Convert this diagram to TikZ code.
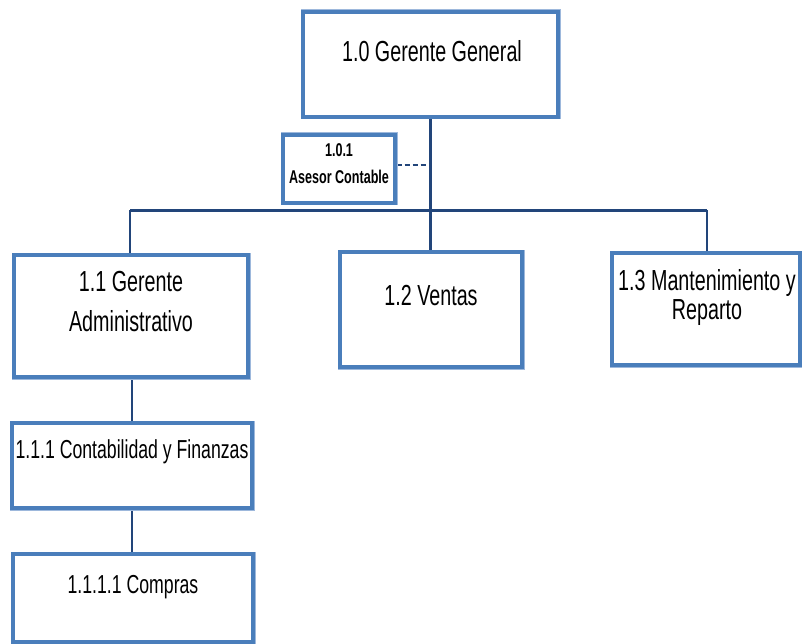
\documentclass[tikz,border=0pt]{standalone}
\usepackage{fontspec}
\setmainfont{Liberation Sans}[FakeStretch=0.68]
\definecolor{boxblue}{HTML}{4A7EBB}
\definecolor{boxedge}{HTML}{9DB8DC}
\definecolor{linkblue}{HTML}{22457A}
\begin{document}
\begin{tikzpicture}[x=1pt,y=-1pt,
  unitbox/.style={draw=boxblue, line width=3.2pt, fill=white, inner sep=0pt,
    preaction={draw=boxedge, line width=5pt}},
  lbl/.style={inner sep=0pt, align=center, font=\fontsize{29}{40}\selectfont},
  smalllbl/.style={inner sep=0pt, align=center, font=\fontsize{26}{30}\selectfont},
  tinylbl/.style={inner sep=0pt, align=center, font=\bfseries\fontsize{18.5}{27}\selectfont},
  link/.style={draw=linkblue, line width=2.6pt},
  dottedlink/.style={draw=linkblue, line width=1.3pt, dash pattern=on 5pt off 3pt}]
\useasboundingbox (0,0) rectangle (802,644);

% fixed points of the connector bar and the dashed staff link
\coordinate (barL) at (130,210.5);
\coordinate (barR) at (707,210.5);
\coordinate (dashEnd) at (426,165);

% boxes
\node[unitbox, minimum width=255, minimum height=105] (gg) at (430.5,64.5) {};
\node[unitbox, minimum width=112, minimum height=68] (ac) at (339,169) {};
\node[unitbox, minimum width=234, minimum height=122] (ga) at (131,316) {};
\node[unitbox, minimum width=182, minimum height=115] (ve) at (431,309.5) {};
\node[unitbox, minimum width=188, minimum height=112] (mr) at (706,309) {};
\node[unitbox, minimum width=240, minimum height=85] (cf) at (132,465.5) {};
\node[unitbox, minimum width=240, minimum height=88] (co) at (133,598) {};

% tree links
\draw[link] (gg.south) -- (gg.south |- ve.north);
\draw[link] (barL) -- (barR);
\draw[link] (barL) -- (barL |- ga.north);
\draw[link] (barR) -- (barR |- mr.north);
\draw[link] (ga.south -| cf.north) -- (cf.north);
\draw[link] (cf.south) -- (cf.south |- co.north);
\draw[dottedlink] (ac.east |- dashEnd) -- (dashEnd);

% redraw boxes above the links
\node[unitbox, minimum width=255, minimum height=105] at (gg) {};
\node[unitbox, minimum width=112, minimum height=68] at (ac) {};
\node[unitbox, minimum width=234, minimum height=122] at (ga) {};
\node[unitbox, minimum width=182, minimum height=115] at (ve) {};
\node[unitbox, minimum width=188, minimum height=112] at (mr) {};
\node[unitbox, minimum width=240, minimum height=85] at (cf) {};
\node[unitbox, minimum width=240, minimum height=88] at (co) {};

% labels
\node[lbl] (gg-t) at (432,51) {1.0 Gerente General};
\node[tinylbl] (ac-t) at (339,164) {1.0.1\\Asesor Contable};
\node[lbl] (ga-t) at (131,302) {1.1 Gerente\\Administrativo};
\node[lbl] (ve-t) at (431,296) {1.2 Ventas};
\node[lbl, font=\fontsize{29}{29}\selectfont] (mr-t) at (707,298) {1.3 Mantenimiento y\\Reparto};
\node[smalllbl] (cf-t) at (132,452) {1.1.1 Contabilidad y Finanzas};
\node[smalllbl] (co-t) at (133,587) {1.1.1.1 Compras};
\end{tikzpicture}
\end{document}
